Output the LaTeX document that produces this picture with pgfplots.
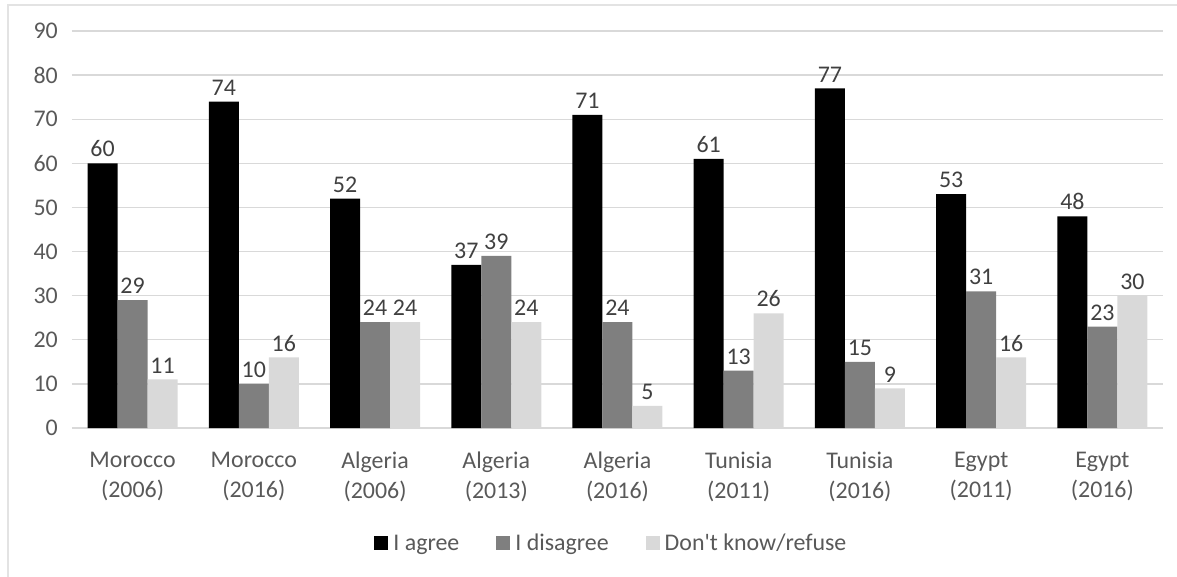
\documentclass[border=0pt]{standalone}
\usepackage{pgfplots}
\pgfplotsset{compat=1.18}
\usepackage{fontspec}
\setmainfont{Carlito}
\definecolor{gridc}{HTML}{D9D9D9}
\definecolor{tickc}{HTML}{595959}
\definecolor{valc}{HTML}{404040}
\definecolor{cagree}{HTML}{000000}
\definecolor{cdis}{HTML}{7F7F7F}
\definecolor{cdk}{HTML}{D9D9D9}
\definecolor{bord}{HTML}{E3E3E3}
\begin{document}
\begin{tikzpicture}
\useasboundingbox (-72bp,-149bp) rectangle (1105bp,428bp);
\draw[bord, line width=1.5bp] (-64bp,-160bp) -- (-64bp,423bp) -- (1120bp,423bp);
\begin{axis}[
  at={(0,0)}, anchor=south west,
  scale only axis, width=1091bp, height=397bp,
  ybar=0pt, bar width=30bp,
  xmin=-0.5, xmax=8.5, ymin=0, ymax=90,
  ytick={0,10,...,90},
  xtick={0,...,8},
  xticklabels={{Morocco\\(2006)},{Morocco\\(2016)},{Algeria\\(2006)},{Algeria\\(2013)},{Algeria\\(2016)},{Tunisia\\(2011)},{Tunisia\\(2016)},{Egypt\\(2011)},{Egypt\\(2016)}},
  xticklabel style={align=center, inner sep=0pt, anchor=north, yshift=-24bp, font=\fontsize{24}{30}\selectfont, text=tickc},
  yticklabel style={anchor=east, inner sep=0pt, xshift=-14bp, font=\fontsize{24}{28}\selectfont, text=tickc},
  /pgf/number format/assume math mode=true,
  major tick length=0pt,
  axis x line*=bottom, axis y line*=left,
  x axis line style={draw=gridc, line width=1.3bp, -},
  y axis line style={draw=none},
  ymajorgrids, grid style={draw=gridc, line width=1.3bp},
  nodes near coords,
  every node near coord/.append style={inner sep=0pt, yshift=6bp, font=\fontsize{24}{28}\selectfont, text=valc},
  legend columns=3,
  legend style={draw=none, at={(0.4935,-0.29)}, anchor=center, font=\fontsize{24}{28}\selectfont, text=tickc,
    /tikz/every odd column/.append style={column sep=5bp},
    /tikz/every even column/.append style={column sep=37bp},
    nodes={inner sep=0pt}},
  legend cell align=left,
  legend image code/.code={\fill[#1] (0bp,-7bp) rectangle (14bp,7bp);},
]
\addplot[fill=cagree, draw=none] coordinates {(0,60) (1,74) (2,52) (3,37) (4,71) (5,61) (6,77) (7,53) (8,48)};
\addplot[fill=cdis, draw=none] coordinates {(0,29) (1,10) (2,24) (3,39) (4,24) (5,13) (6,15) (7,31) (8,23)};
\addplot[fill=cdk, draw=none] coordinates {(0,11) (1,16) (2,24) (3,24) (4,5) (5,26) (6,9) (7,16) (8,30)};
\legend{I agree, I disagree, Don\textquotesingle t know/refuse}
\end{axis}
\end{tikzpicture}
\end{document}
